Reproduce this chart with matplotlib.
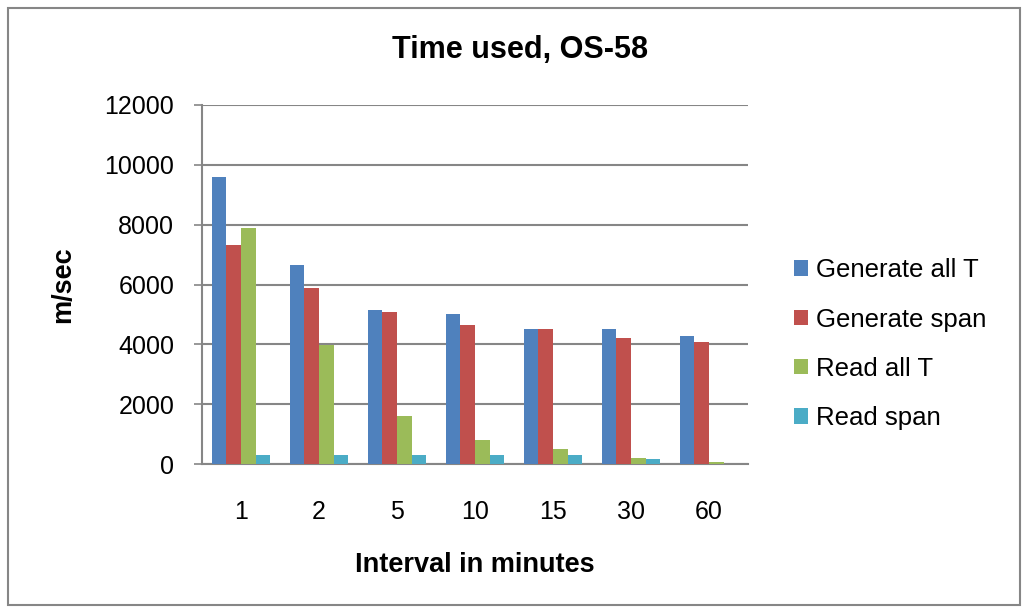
import matplotlib
matplotlib.use("Agg")
import matplotlib.pyplot as plt
from matplotlib.patches import Rectangle
import numpy as np

plt.rcParams['font.family'] = ['Liberation Sans', 'DejaVu Sans']

categories = ["1", "2", "5", "10", "15", "30", "60"]
generate_all_t = [9600, 6650, 5150, 5010, 4510, 4510, 4290]
generate_span = [7320, 5880, 5080, 4650, 4510, 4220, 4090]
read_all_t = [7890, 3980, 1600, 800, 500, 210, 80]
read_span = [300, 300, 300, 300, 300, 170, 0]
series_names = ["Generate all T", "Generate span", "Read all T", "Read span"]
colors = ["#4F81BD", "#C0504D", "#9BBB59", "#4BACC6"]
yticks = [0, 2000, 4000, 6000, 8000, 10000, 12000]

fig = plt.figure(figsize=(10.23, 6.11), dpi=100)
ax = fig.add_axes([202/1023, 1 - 464/611, (748-202)/1023, (464-105)/611])

x = np.arange(len(categories))
w = 0.186
series = [generate_all_t, generate_span, read_all_t, read_span]
for i, (vals, name, c) in enumerate(zip(series, series_names, colors)):
    ax.bar(x + (i - 1.5) * w, vals, width=w, color=c, label=name, zorder=3)

ax.set_xlim(-0.5, len(categories) - 0.5)
ax.set_ylim(0, 12000)
ax.set_yticks(yticks)
ax.set_yticklabels([str(t) for t in yticks], fontsize=18)
ax.set_xticks(x)
ax.set_xticklabels(categories, fontsize=18)
ax.tick_params(axis='x', length=0, pad=26)
ax.tick_params(axis='y', length=6, color='#868686', pad=14, width=1.2)
ax.yaxis.grid(True, color='#868686', linewidth=1.5, zorder=0)
ax.set_axisbelow(True)
for s in ['top', 'right']:
    ax.spines[s].set_visible(False)
for s in ['left', 'bottom']:
    ax.spines[s].set_color('#868686')
    ax.spines[s].set_linewidth(1.5)

ax.set_xlabel("Interval in minutes", fontsize=19.5, fontweight='bold', labelpad=20)
ax.set_ylabel("m/sec", fontsize=19.5, fontweight='bold', labelpad=20)
fig.text(520/1023, 1 - 50/611, "Time used, OS-58", fontsize=22, fontweight='bold',
         ha='center', va='center')

leg = ax.legend(loc='center left', bbox_to_anchor=(1.065, 0.334), frameon=False,
                fontsize=18.5, handlelength=0.55, handleheight=0.55,
                handletextpad=0.3, labelspacing=0.98, borderaxespad=0)

fig.patches.append(Rectangle((8/1023, 1 - 605/611), (1020-8)/1023, (605-8)/611,
                             transform=fig.transFigure, fill=False,
                             edgecolor='#868686', linewidth=1.5))

fig.savefig("out.png", dpi=100)
